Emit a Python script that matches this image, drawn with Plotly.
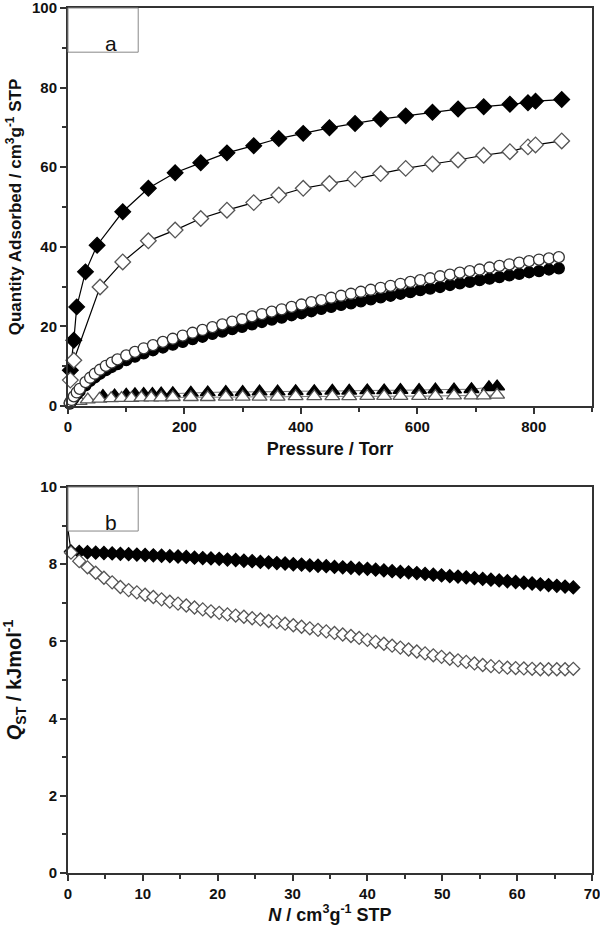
import plotly.graph_objects as go

# ---- panel a: isotherms (Pressure / Torr vs Quantity adsorbed)
p_dia_fill = [4, 10, 15, 30, 50, 94, 138, 184, 228, 273, 319, 362, 404, 449, 493, 537, 580, 626, 670, 714, 759, 790, 803, 848]
q_dia_fill = [9.0, 16.5, 24.9, 33.7, 40.4, 48.8, 54.7, 58.6, 61.1, 63.6, 65.4, 67.2, 68.5, 69.9, 71.0, 72.1, 72.9, 73.8, 74.6, 75.2, 75.8, 76.2, 76.6, 77.0]

p_dia_open = [4, 10, 55, 94, 138, 184, 228, 273, 319, 362, 404, 449, 493, 537, 580, 626, 670, 714, 759, 790, 803, 848]
q_dia_open = [6.5, 11.5, 29.9, 36.2, 41.5, 44.2, 47.1, 49.2, 51.1, 53.0, 54.7, 55.9, 57.0, 58.4, 59.7, 60.8, 61.8, 63.0, 63.9, 65.1, 65.6, 66.6]

p_circ = [3, 6, 10, 15, 20, 30, 38, 46, 55, 65, 75, 85, 100, 115, 130, 146, 163, 180, 197, 214,
          231, 248, 265, 282, 299, 316, 333, 350, 367, 384, 401, 418, 435, 452, 469, 486, 503, 520,
          537, 554, 571, 588, 605, 622, 639, 656, 673, 690, 707, 724, 741, 758, 775, 792, 809, 826, 843]
q_circ_open = [0.8, 1.5, 2.4, 3.4, 4.3, 6.0, 7.1, 8.1, 9.1, 10.1, 10.9, 11.7, 12.7, 13.6, 14.5, 15.3, 16.1, 16.9, 17.7, 18.4,
               19.1, 19.8, 20.5, 21.2, 21.8, 22.5, 23.1, 23.7, 24.3, 24.9, 25.5, 26.1, 26.6, 27.2, 27.7, 28.2, 28.7, 29.2,
               29.7, 30.2, 30.7, 31.2, 31.6, 32.1, 32.6, 33.0, 33.5, 33.9, 34.3, 34.8, 35.2, 35.6, 36.0, 36.4, 36.8, 37.1, 37.4]
q_circ_fill = [0.6, 1.2, 2.0, 2.9, 3.7, 5.2, 6.3, 7.2, 8.1, 9.0, 9.8, 10.5, 11.5, 12.4, 13.2, 14.0, 14.7, 15.4, 16.1, 16.8,
               17.4, 18.1, 18.7, 19.3, 19.9, 20.5, 21.1, 21.7, 22.2, 22.8, 23.3, 23.8, 24.4, 24.9, 25.4, 25.8, 26.3, 26.8,
               27.3, 27.7, 28.2, 28.6, 29.1, 29.5, 29.9, 30.4, 30.8, 31.2, 31.6, 32.0, 32.4, 32.8, 33.2, 33.6, 33.9, 34.3, 34.6]

p_tri_fill = [60, 80, 100, 115, 130, 145, 160, 180, 211, 240, 271, 300, 329, 360, 391, 423, 454, 483, 514, 543, 571, 603, 631, 663, 693, 723, 737]
q_tri_fill = [2.5, 2.6, 2.8, 2.9, 3.0, 3.0, 3.1, 3.2, 3.3, 3.4, 3.5, 3.5, 3.6, 3.6, 3.7, 3.7, 3.8, 3.8, 3.9, 3.9, 4.0, 4.0, 4.1, 4.1, 4.2, 4.7, 4.9]

p_tri_open = [20, 34, 54, 74, 92, 109, 126, 143, 160, 180, 211, 240, 271, 300, 329, 360, 391, 423, 454, 483, 514, 543, 571, 603, 631, 663, 693, 714, 737]
q_tri_open = [1.2, 1.6, 1.8, 1.9, 2.0, 2.0, 2.1, 2.1, 2.1, 2.2, 2.2, 2.2, 2.3, 2.3, 2.3, 2.3, 2.4, 2.4, 2.4, 2.4, 2.5, 2.5, 2.5, 2.5, 2.5, 2.6, 2.6, 2.6, 2.8]

# ---- panel b: isosteric heat (N vs Qst)
n_qst = [0.4, 1.5, 2.6, 3.7, 4.8, 5.9, 7.0, 8.1, 9.2, 10.3, 11.4, 12.5, 13.6, 14.7, 15.8, 16.9, 18.0, 19.1, 20.2, 21.3,
         22.4, 23.5, 24.6, 25.7, 26.8, 27.9, 29.0, 30.1, 31.2, 32.3, 33.4, 34.5, 35.6, 36.7, 37.8, 38.9, 40.0, 41.1,
         42.2, 43.3, 44.4, 45.5, 46.6, 47.7, 48.8, 49.9, 51.0, 52.1, 53.2, 54.3, 55.4, 56.5, 57.6, 58.7, 59.8, 60.9,
         62.0, 63.1, 64.2, 65.3, 66.4, 67.5]
qst_fill = [8.33, 8.32, 8.31, 8.30, 8.29, 8.28, 8.27, 8.26, 8.25, 8.24, 8.23, 8.22, 8.21, 8.20, 8.19, 8.17, 8.16, 8.15, 8.14, 8.12,
            8.11, 8.09, 8.08, 8.06, 8.05, 8.03, 8.02, 8.00, 7.99, 7.97, 7.96, 7.95, 7.93, 7.92, 7.91, 7.89, 7.88, 7.86,
            7.84, 7.82, 7.80, 7.79, 7.77, 7.75, 7.73, 7.71, 7.69, 7.68, 7.66, 7.64, 7.62, 7.60, 7.58, 7.56, 7.54, 7.52,
            7.50, 7.48, 7.46, 7.44, 7.42, 7.40]
qst_open = [8.30, 8.08, 7.92, 7.78, 7.65, 7.53, 7.41, 7.33, 7.27, 7.21, 7.15, 7.09, 7.03, 6.98, 6.93, 6.88, 6.83, 6.78, 6.74, 6.70,
            6.67, 6.64, 6.60, 6.57, 6.53, 6.50, 6.46, 6.42, 6.38, 6.34, 6.30, 6.26, 6.22, 6.18, 6.14, 6.09, 6.04, 5.99,
            5.94, 5.89, 5.84, 5.79, 5.74, 5.69, 5.64, 5.60, 5.55, 5.51, 5.47, 5.43, 5.39, 5.36, 5.34, 5.32, 5.31, 5.30,
            5.29, 5.28, 5.28, 5.28, 5.28, 5.29]
n_tail = [0.0, 0.4]
qst_tail = [8.9, 8.33]

# tick labels
ticks_p = [0, 200, 400, 600, 800]
ticks_q = [0, 20, 40, 60, 80, 100]
ticks_n = [0, 10, 20, 30, 40, 50, 60, 70]
ticks_qst = [0, 2, 4, 6, 8, 10]

FONT = 'Liberation Sans, Arial, sans-serif'
BLACK = '#000000'
GREY = '#555555'

fig = go.Figure()

def add(x, y, sym, fill, edge, size, xa, ya, lw=1.2, lcol=BLACK, mode='lines+markers'):
    fig.add_trace(go.Scatter(
        x=x, y=y, mode=mode, xaxis=xa, yaxis=ya,
        line=dict(color=lcol, width=lw),
        marker=dict(symbol=sym, size=size, color=fill, line=dict(color=edge, width=1.3)),
        showlegend=False, cliponaxis=False))

# panel a
add(p_tri_fill, q_tri_fill, 'triangle-up', BLACK, BLACK, 13, 'x', 'y', lw=0.8, lcol=GREY)
add(p_tri_open, q_tri_open, 'triangle-up', 'white', GREY, 13, 'x', 'y', lw=0.8, lcol=GREY)
add(p_circ, q_circ_fill, 'circle', BLACK, BLACK, 11, 'x', 'y', lw=0.8)
add(p_circ, q_circ_open, 'circle', 'white', '#333333', 11, 'x', 'y', lw=0.8)
add(p_dia_fill, q_dia_fill, 'diamond', BLACK, BLACK, 12, 'x', 'y')
add(p_dia_open, q_dia_open, 'diamond', 'white', GREY, 12, 'x', 'y')

# panel b
fig.add_trace(go.Scatter(x=n_tail, y=qst_tail, mode='lines', xaxis='x2', yaxis='y2',
                         line=dict(color=BLACK, width=1.2), showlegend=False))
add(n_qst, qst_fill, 'diamond', BLACK, BLACK, 10, 'x2', 'y2', mode='markers')
add(n_qst, qst_open, 'diamond', 'white', GREY, 10, 'x2', 'y2', mode='markers')

def bold(vals):
    return ['<b>%g</b>' % v for v in vals]

axis_style = dict(showline=True, linecolor='#333333', linewidth=2, mirror=True,
                  ticks='outside', ticklen=6, tickwidth=1.5, tickcolor='#333333',
                  showgrid=False, zeroline=False, automargin=False,
                  ticklabeloverflow='allow',
                  tickfont=dict(family=FONT, size=15, color='#111111'))

def tfont(sz):
    return dict(family=FONT, size=sz, color='#111111')

fig.update_layout(
    width=600, height=932,
    paper_bgcolor='white', plot_bgcolor='white',
    margin=dict(l=68, r=8, t=8, b=59),
    xaxis=dict(axis_style, domain=[0, 1], anchor='y', range=[0, 900],
               tickvals=ticks_p, ticktext=bold(ticks_p),
               minor=dict(ticks='outside', ticklen=4, tickcolor='#333333', dtick=100),
               title=dict(text='<b>Pressure / Torr</b>', font=tfont(18), standoff=8)),
    yaxis=dict(axis_style, domain=[0.5399, 1], anchor='x', range=[0, 100],
               tickvals=ticks_q, ticktext=bold(ticks_q),
               minor=dict(ticks='outside', ticklen=4, tickcolor='#333333', dtick=10),
               title=dict(text='<b>Quantity Adsorbed / cm<sup>3</sup>g<sup>-1</sup> STP</b>', font=tfont(17), standoff=6)),
    xaxis2=dict(axis_style, domain=[0, 1], anchor='y2', range=[0, 70],
                tickvals=ticks_n, ticktext=bold(ticks_n),
                minor=dict(ticks='outside', ticklen=4, tickcolor='#333333', dtick=5),
                title=dict(text='<b><i>N</i> / cm<sup>3</sup>g<sup>-1</sup> STP</b>', font=tfont(18), standoff=4)),
    yaxis2=dict(axis_style, domain=[0, 0.4462], anchor='x2', range=[0, 10],
                tickvals=ticks_qst, ticktext=bold(ticks_qst),
                minor=dict(ticks='outside', ticklen=4, tickcolor='#333333', dtick=1),
                title=dict(text='<b><i>Q</i><sub>ST</sub> / kJmol<sup>-1</sup></b>', font=tfont(20), standoff=14)),
    shapes=[
        dict(type='rect', xref='x domain', yref='y domain', x0=0, x1=0.134, y0=0.889, y1=1,
             line=dict(color='#888888', width=1), fillcolor='white'),
        dict(type='rect', xref='x2 domain', yref='y2 domain', x0=0, x1=0.134, y0=0.886, y1=1,
             line=dict(color='#888888', width=1), fillcolor='white'),
    ],
    annotations=[
        dict(text='a', xref='x domain', yref='y domain', x=0.067, y=0.945, showarrow=False,
             font=dict(family=FONT, size=21, color='#111111')),
        dict(text='b', xref='x2 domain', yref='y2 domain', x=0.067, y=0.943, showarrow=False,
             font=dict(family=FONT, size=21, color='#111111')),
    ],
)

# the page body has a default 8px margin; drop it so the figure fills the window
fig.write_html("out.html", config={'displayModeBar': False},
               post_script="document.body.style.margin='0';document.body.style.overflow='hidden';")
